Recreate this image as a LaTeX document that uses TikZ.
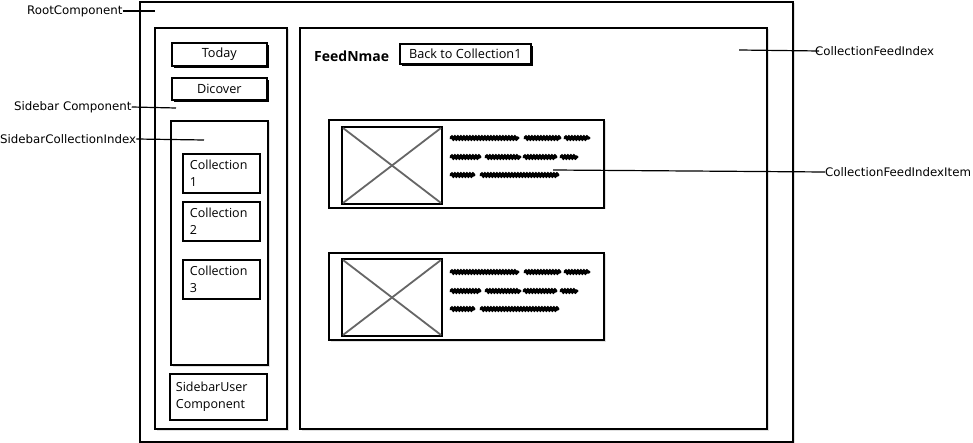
\documentclass[tikz,border=0pt]{standalone}
\usepackage{fontspec}
\setmainfont{Open Sans}
\newfontfamily\tagfont{DejaVu Sans}
\usetikzlibrary{positioning,shadows,decorations.pathmorphing}

\tikzset{
  box/.style={draw, line width=2pt, fill=white, inner sep=0pt, rectangle, anchor=north west},
  softbox/.style={box, drop shadow={shadow xshift=1.5pt, shadow yshift=-1.5pt, fill=black!12, opacity=1}},
  btn/.style={box, line width=1.6pt, font=\fontsize{12.7}{14}\selectfont,
    drop shadow={shadow xshift=2.5pt, shadow yshift=-2.5pt, fill=black, opacity=1}},
  listbox/.style={softbox, line width=1.8pt, font=\fontsize{12.5}{16.5}\selectfont, align=left,
    inner xsep=7pt, text width=63pt},
  tag/.style={font=\tagfont\fontsize{11.8}{13}\selectfont, inner sep=0pt, anchor=west},
  pointer/.style={line width=1.2pt},
  cross/.style={line width=1.8pt, draw=black!60},
  scribble/.style={line width=3.4pt, line cap=round, decorate,
    decoration={snake, segment length=3pt, amplitude=0.8pt}}
}

\begin{document}
\begin{tikzpicture}[x=1pt, y=-1pt]
  \useasboundingbox (0,0) rectangle (973,443);

  % frames
  \node[softbox, minimum width=653pt, minimum height=440pt] (root) at (139,1) {};
  \node[softbox, minimum width=132pt, minimum height=401pt] (sidebar) at (154,27) {};
  \node[softbox, minimum width=467pt, minimum height=401pt] (feed) at (299,27) {};

  % sidebar
  \node[btn, minimum width=95pt, minimum height=23pt] (today) at (171,42) {Today};
  \node[btn, minimum width=95pt, minimum height=22pt] (discover) at (171,77) {Dicover};
  \node[softbox, minimum width=97pt, minimum height=244pt] (colindex) at (170,120) {};
  \node[listbox, minimum width=77pt, minimum height=39pt] (col1) at (182,153) {Collection\\1};
  \node[listbox, minimum width=77pt, minimum height=39pt] (col2) at (182,201) {Collection\\2};
  \node[listbox, minimum width=77pt, minimum height=39pt] (col3) at (182,259) {Collection\\3};
  \node[listbox, inner xsep=6pt, text width=85pt, minimum width=97pt, minimum height=46pt] (user) at (169,373) {SidebarUser\\Component};

  % feed header
  \node[anchor=west, inner sep=0pt, font=\bfseries\fontsize{14}{16}\selectfont] (feedname) at (314,56) {FeedNmae};
  \node[btn, minimum width=131pt, minimum height=20pt] (back) at (399,43) {Back to Collection1};

  % feed items
  \node[softbox, minimum width=275pt, minimum height=88pt] (item1) at (328,119) {};
  \node[box, minimum width=100pt, minimum height=77pt] (img1) at (341,126) {};
  \node[softbox, minimum width=275pt, minimum height=87pt] (item2) at (328,252) {};
  \node[box, minimum width=100pt, minimum height=77pt] (img2) at (341,258) {};

  \foreach \im in {img1,img2}{
    \draw[cross] ([shift={(2pt,-2pt)}]\im.north west) -- ([shift={(-2pt,2pt)}]\im.south east);
    \draw[cross] ([shift={(-2pt,-2pt)}]\im.north east) -- ([shift={(2pt,2pt)}]\im.south west);
  }

  \foreach \dy in {0,134}{
    \begin{scope}[shift={(0,\dy)}]
      \foreach \xa/\xb/\yy in {451/518/138, 525/560/138, 565/589/138,
                               451/480/157, 486/520/157, 524/556/157, 561/577/157,
                               451/474/175, 481/558/175}
        \draw[scribble] (\xa,\yy) -- (\xb,\yy);
    \end{scope}
  }

  % labels
  \node[tag] (rootlbl) at (27,11) {RootComponent};
  \coordinate (rootpt) at (155,11);
  \draw[pointer] (rootlbl.east) -- (rootpt);

  \node[tag] (sidelbl) at (14,107) {Sidebar Component};
  \coordinate (sidept) at (176,108);
  \draw[pointer] (sidelbl.east) -- (sidept);

  \node[tag] (indexlbl) at (0,139) {SidebarCollectionIndex};
  \coordinate (indexpt) at (204,140);
  \draw[pointer] (indexlbl.east) -- (indexpt);

  \node[tag] (feedlbl) at (815,51) {CollectionFeedIndex};
  \coordinate (feedpt) at (739,50);
  \draw[pointer] (feedpt) -- ([xshift=4pt]feedlbl.west);

  \node[tag] (itemlbl) at (825,172) {CollectionFeedIndexItem};
  \coordinate (itempt) at (553,170);
  \draw[pointer] (itempt) -- (itemlbl.west);
\end{tikzpicture}
\end{document}
